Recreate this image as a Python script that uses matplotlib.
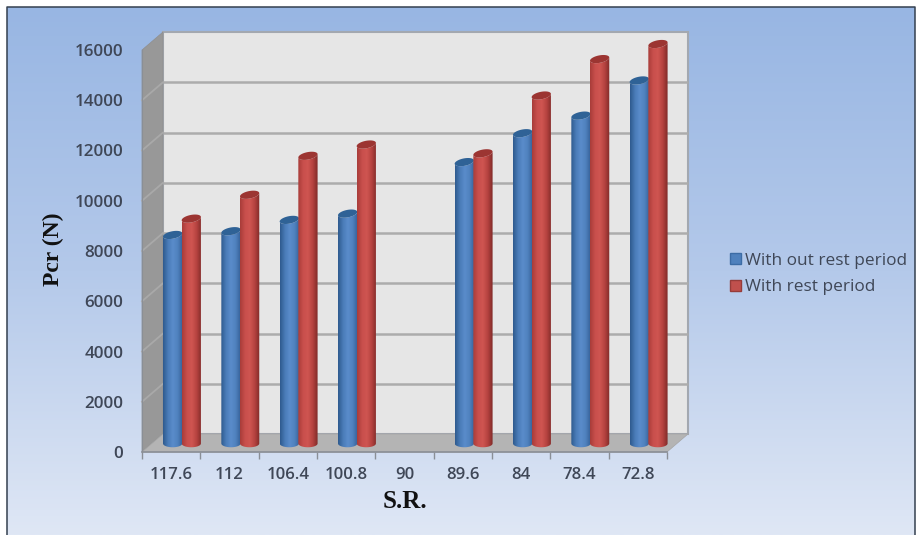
import numpy as np
import matplotlib
matplotlib.use("Agg")
import matplotlib.pyplot as plt
from matplotlib.patches import Patch, PathPatch, Polygon, Rectangle
from matplotlib.path import Path
from matplotlib.transforms import ScaledTranslation
from matplotlib.colors import LinearSegmentedColormap

# data (no bars for S.R. 90)
categories = ['117.6', '112', '106.4', '100.8', '90', '89.6', '84', '78.4', '72.8']
without_rest = [8300, 8450, 8900, 9150, np.nan, 11200, 12350, 13050, 14450]
with_rest = [8950, 9900, 11450, 11900, np.nan, 11550, 13850, 15300, 15900]
y_ticks = [0, 2000, 4000, 6000, 8000, 10000, 12000, 14000, 16000]

W, H = 917, 535
FONT = 'Open Sans'
TEXT = '#3f4757'

fig = plt.figure(figsize=(W / 100, H / 100), dpi=100, facecolor='white')


def px_axes(x0, y0, x1, y1, **kw):
    # axes from pixel box, y counted from the top of the picture
    return fig.add_axes([x0 / W, 1 - y1 / H, (x1 - x0) / W, (y1 - y0) / H], **kw)


# background with gradient
bg = px_axes(0, 0, W, H, zorder=0)
bg.axis('off')
grad = LinearSegmentedColormap.from_list('bg', ['#98b6e3', '#b4c9ea', '#dfe7f5'])
bg.imshow(np.linspace(0, 1, 256).reshape(-1, 1), cmap=grad, aspect='auto',
          extent=(7, 915, H, 7), zorder=0)
bg.set_xlim(0, W)
bg.set_ylim(H, 0)
bg.plot([7, 7, 915, 915], [H, 7, 7, H], color='#34404f', lw=1.1, zorder=1)

# front plane of the 3d box
FX0, FX1, FY0, FY1 = 142, 667, 50, 452
DX, DY = 21, 18
PX_X = (FX1 - FX0) / 9
PX_Y = (FY1 - FY0) / 16000

# walls and floor
bg.add_patch(Rectangle((FX0 + DX, FY0 - DY), FX1 - FX0, FY1 - FY0, fc='#e6e6e6',
                       ec='#a3a8b0', lw=1.5, zorder=2))
bg.add_patch(Polygon([(FX0, FY0), (FX0 + DX, FY0 - DY), (FX0 + DX, FY1 - DY), (FX0, FY1)],
                     fc='#989898', ec='#8f8f8f', lw=0.5, zorder=3))
bg.add_patch(Polygon([(FX0, FY1), (FX0 + DX, FY1 - DY), (FX1 + DX, FY1 - DY), (FX1, FY1)],
                     fc='#b4b4b4', ec='#a5a5a5', lw=0.5, zorder=3))

# axes box is a bit larger than the front plane, images get cropped to it
XMAX, YMAX = 9.6, 17000
ax = px_axes(FX0, FY1 - YMAX * PX_Y, FX0 + XMAX * PX_X, FY1, zorder=2)
ax.patch.set_alpha(0)

# gridlines on back wall and side wall
back = ax.transData + ScaledTranslation(DX / 100, DY / 100, fig.dpi_scale_trans)
ax.hlines(y_ticks[1:-1], 0, 9, colors='#acacac', lw=1.8, transform=back, zorder=1)
for v in y_ticks[1:-1]:
    py = FY1 - (FY1 - FY0) * v / 16000
    bg.plot([FX0, FX0 + DX], [py, py - DY], color='#a9a9a9', lw=1.3, zorder=4)

# bars stand half way into the floor
mid = ax.transData + ScaledTranslation(10.5 / 100, 8.5 / 100, fig.dpi_scale_trans)
BAR_W = 0.33
CAP_H = 150
TILT = 65

blue_map = LinearSegmentedColormap.from_list('b', ['#2e5a8e', '#4a7cb8', '#5a8ccb', '#4f81bd', '#345f96'])
red_map = LinearSegmentedColormap.from_list('r', ['#a83c39', '#c84f4c', '#cf5551', '#b4423f', '#7f2a28'])
t = np.linspace(0, 2 * np.pi, 60)
arc = np.linspace(np.pi, 2 * np.pi, 30)


def cylinder(cx, value, cmap, cap_color, z):
    # body as a horizontal gradient clipped to the outline of the cylinder
    half = BAR_W / 2
    bx = cx + half * np.cos(arc)
    by = CAP_H * np.sin(arc)
    tx = cx + half * np.cos(arc[::-1])
    ty = value + CAP_H * np.sin(arc[::-1]) + TILT * np.cos(arc[::-1])
    outline = np.column_stack([np.r_[bx, tx], np.r_[by, ty]])
    clip = PathPatch(Path(np.vstack([outline, outline[:1]]), closed=True),
                     fc='none', ec='none', transform=mid)
    ax.add_patch(clip)
    im = ax.imshow(np.linspace(0, 1, 64).reshape(1, -1), cmap=cmap, aspect='auto',
                   extent=(cx - half, cx + half, -CAP_H - TILT, value + CAP_H + TILT),
                   transform=mid, zorder=z)
    im.set_clip_path(clip)
    cap = np.column_stack([cx + half * np.cos(t),
                           value + CAP_H * np.sin(t) + TILT * np.cos(t)])
    ax.add_patch(Polygon(cap, fc=cap_color, ec='none', transform=mid, zorder=z + 0.1))


for i in range(len(categories)):
    if not np.isnan(without_rest[i]):
        cylinder(i + 0.5 - 0.155, without_rest[i], blue_map, '#2f6296', 3 + i * 0.01)
    if not np.isnan(with_rest[i]):
        cylinder(i + 0.5 + 0.165, with_rest[i], red_map, '#9c3532', 4 + i * 0.01)
ax.set_xlim(0, XMAX)
ax.set_ylim(0, YMAX)

# axes
for side in ['top', 'right']:
    ax.spines[side].set_visible(False)
ax.spines['left'].set_color('#8a8f96')
ax.spines['left'].set_bounds(0, 16000)
ax.spines['bottom'].set_color('#8a8f96')
ax.spines['bottom'].set_linewidth(1.2)
ax.spines['bottom'].set_bounds(0, 9)
ax.set_yticks(y_ticks)
ax.set_yticklabels([str(v) for v in y_ticks], fontsize=12.3, color=TEXT, family=FONT,
                   fontweight='semibold')
ax.tick_params(axis='y', length=0, pad=13.5)
ax.set_xticks(range(10))
ax.set_xticklabels([])
ax.tick_params(axis='x', length=5, width=1, color='#8a8f96')
ax.set_xticks(np.arange(len(categories)) + 0.5, labels=categories, minor=True,
              fontsize=12.1, color=TEXT, family=FONT, fontweight='semibold')
ax.tick_params(axis='x', which='minor', length=0, pad=10.8)

fig.text(405 / W, 1 - 502 / H, 'S.R.', family='Liberation Serif', fontweight='bold',
         fontsize=18, color='#111111', ha='center', va='center')
fig.text(53 / W, 1 - 249 / H, 'Pcr (N)', family='Liberation Serif', fontweight='bold',
         fontsize=17, color='#111111', ha='center', va='center', rotation=90)

handles = [Patch(fc='#4f81bd', ec='#3c6ca5', label='With out rest period'),
           Patch(fc='#c0504d', ec='#963c3a', label='With rest period')]
fig.legend(handles=handles, loc='center left', bbox_to_anchor=(718 / W, 1 - 274 / H),
           frameon=False, prop={'family': FONT, 'size': 12.4}, labelcolor=TEXT,
           handlelength=0.65, handleheight=0.65, handletextpad=0.2, labelspacing=0.62,
           borderpad=0.2)

fig.savefig('out.png', dpi=100)
